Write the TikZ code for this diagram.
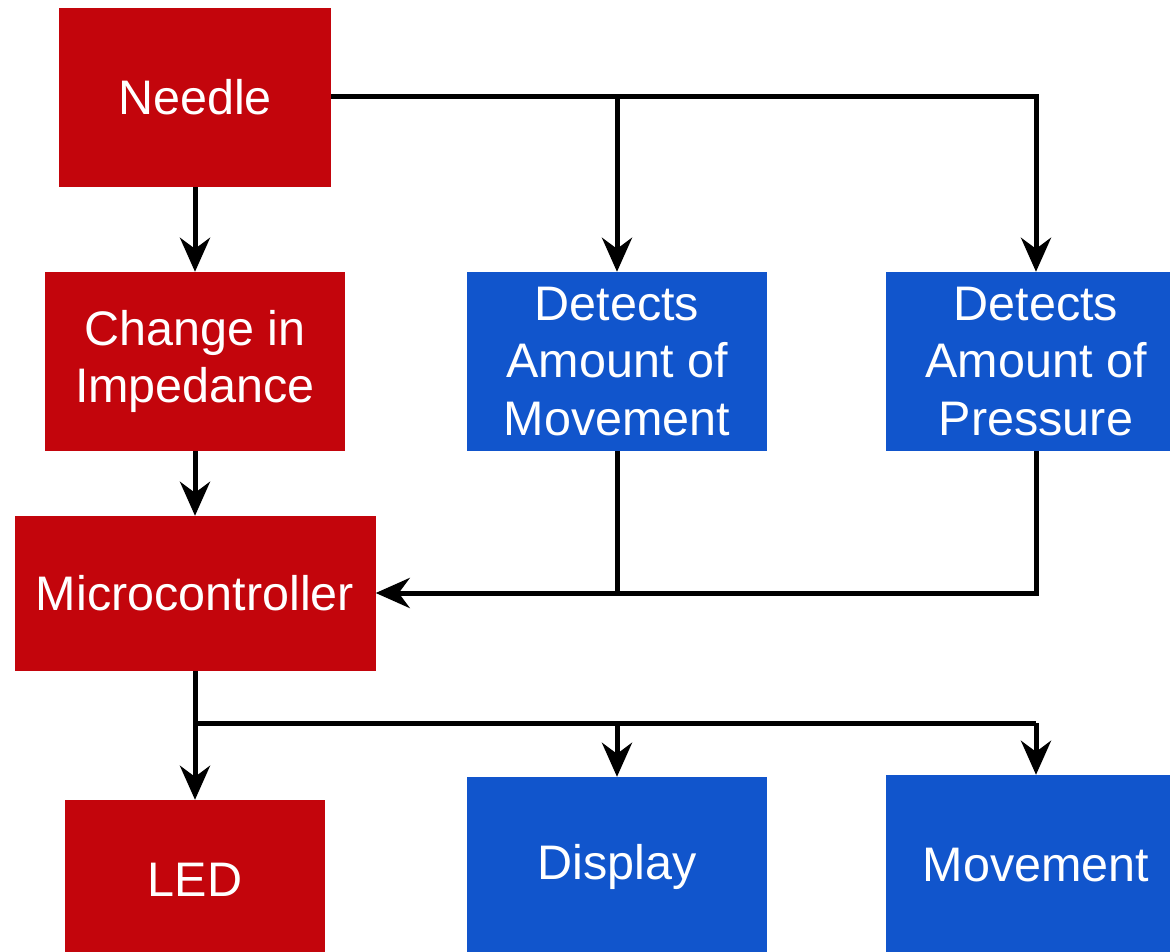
\documentclass[tikz,border=0pt]{standalone}
\usepackage{fontspec}
\setmainfont{Liberation Sans}
\usetikzlibrary{arrows.meta}
\definecolor{boxred}{RGB}{195,5,12}
\definecolor{boxblue}{RGB}{17,85,204}
\begin{document}
\begin{tikzpicture}[x=1pt,y=-1pt,
  blk/.style={rectangle, inner sep=0pt, text=white, align=center,
    font=\fontsize{48.5}{57.5}\selectfont},
  redbox/.style={blk, fill=boxred},
  bluebox/.style={blk, fill=boxblue},
  conn/.style={line width=5pt, black},
  arr/.style={conn, -{Stealth[length=34pt,width=30pt,inset=11pt]}}]
\useasboundingbox (0,0) rectangle (1170,952);
\begin{scope}
\clip (0,0) rectangle (1170,952);
\node[redbox, minimum width=272pt, minimum height=179pt] (needle) at (195,97.5) {Needle};
\node[redbox, minimum width=300pt, minimum height=179pt] (imp) at (195,361.5) {Change in\\Impedance};
\node[redbox, minimum width=361pt, minimum height=155pt] (mc) at (195,593.5) {Microcontroller};
\node[redbox, minimum width=260pt, minimum height=160pt] (led) at (195,880) {LED};
\node[bluebox, minimum width=300pt, minimum height=179pt] (dmov) at (617,361.5) {Detects\\Amount of\\Movement};
\node[bluebox, minimum width=300pt, minimum height=179pt] (dpre) at (1036,361.5) {Detects\\Amount of\\Pressure};
\node[bluebox, minimum width=300pt, minimum height=180pt] (disp) at (617,867) {Display};
\node[bluebox, minimum width=300pt, minimum height=180pt] (mov) at (1036,865) {Movement};
\end{scope}
\coordinate (t1) at (617,97);
\coordinate (t2) at (1036,97);
\coordinate (j1) at (617,593);
\coordinate (j2) at (1036,593);
\coordinate (b0) at (195,723);
\coordinate (b1) at (617,723);
\coordinate (b2) at (1036,723);
\draw[arr] (needle.south) -- (imp.north);
\draw[arr] (imp.south) -- (mc.north);
\draw[conn] (needle.east |- t1) -- (t1);
\draw[arr] (t1) -- (t2) -- (dpre.north);
\draw[arr] (t1) -- (dmov.north);
\draw[conn] (dpre.south) -- (j2) -- (j1);
\draw[arr] (dmov.south) -- (j1) -- (mc.east |- j1);
\draw[arr] (mc.south) -- (led.north);
\draw[conn] (b0) -- (b2);
\draw[arr] (b2) -- (mov.north);
\draw[arr] (b1) -- (disp.north);
\end{tikzpicture}
\end{document}
